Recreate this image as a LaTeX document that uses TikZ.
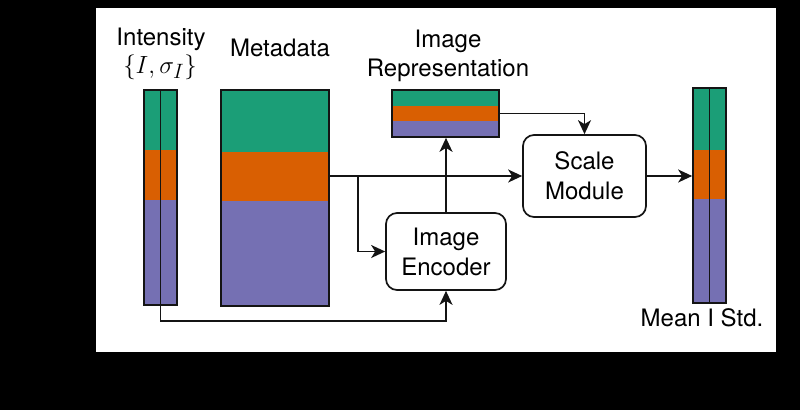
\documentclass[tikz,border=0pt]{standalone}
\usepackage{fontspec}
\setmainfont{TeX Gyre Heros}
\usetikzlibrary{arrows.meta}
\definecolor{cgreen}{HTML}{1B9E77}
\definecolor{corange}{HTML}{D95F02}
\definecolor{cpurple}{HTML}{7570B3}
\definecolor{cline}{HTML}{141414}
\begin{document}
\begin{tikzpicture}[x=1pt,y=-1pt,
  lbl/.style={font=\fontsize{24}{29}\selectfont, inner sep=0pt, align=center},
  boxnode/.style={draw=cline, line width=1.7pt, rounded corners=11pt, align=center,
     font=\fontsize{24}{30}\selectfont, inner sep=0pt},
  outline/.style={draw=cline, line width=1.7pt, inner sep=0pt},
  conn/.style={draw=cline, line width=1.7pt, -{Stealth[length=14pt,width=13pt,inset=4pt]}},
  plain/.style={draw=cline, line width=1.7pt}
]
\useasboundingbox (0,0) rectangle (800,410);
\fill[black] (0,0) rectangle (800,410);
\fill[white] (96,8) rectangle (776,352);

% Intensity bar
\fill[cgreen] (144,90) rectangle (177,150);
\fill[corange] (144,150) rectangle (177,200);
\fill[cpurple] (144,200) rectangle (177,305);
\node[outline, minimum width=33pt, minimum height=215pt] (int) at (160.5,197.5) {};
\draw[plain] (int.north) -- (int.south);

% Metadata
\fill[cgreen] (221,90) rectangle (329,152);
\fill[corange] (221,152) rectangle (329,201);
\fill[cpurple] (221,201) rectangle (329,306);
\node[outline, minimum width=108pt, minimum height=216pt] (meta) at (275,198) {};

% Image representation
\fill[cgreen] (392,90) rectangle (499,106);
\fill[corange] (392,106) rectangle (499,121);
\fill[cpurple] (392,121) rectangle (499,137);
\node[outline, minimum width=107pt, minimum height=47pt] (rep) at (445.5,113.5) {};

% Output bar
\fill[cgreen] (693,88) rectangle (726,150);
\fill[corange] (693,150) rectangle (726,199);
\fill[cpurple] (693,199) rectangle (726,303);
\node[outline, minimum width=33pt, minimum height=215pt] (out) at (709.5,195.5) {};
\draw[plain] (out.north) -- (out.south);

% Boxes
\node[boxnode, minimum width=123pt, minimum height=82pt] (scale) at (584.5,176) {Scale\\Module};
\node[boxnode, minimum width=120pt, minimum height=77pt] (enc) at (446,251.5) {Image\\Encoder};

% Labels
\node[lbl, anchor=base] (lint) at (161,45) {Intensity};
\node[inner sep=0pt, anchor=base, font=\Huge] (lsym) at (160,73) {$\{I,\sigma_I\}$};
\node[lbl, anchor=base] (lmeta) at (280,56) {Metadata};
\node[lbl] (lrep) at (448,55.5) {Image\\Representation};
\node[lbl, anchor=base] (lout) at (702,326) {Mean I Std.};

% Connectors
\coordinate (j) at (358,176);
\draw[conn] (meta.east |- scale.west) -- (scale.west);
\draw[conn] (j) |- (enc.west);
\draw[conn] (enc.north) -- (rep.south -| enc.north);
\draw[conn] (rep.east) -| (scale.north);
\draw[conn] (scale.east) -- (scale.east -| out.west);
\coordinate (b) at (160.5,321);
\draw[conn] (int.south) -- (b) -| (enc.south);
\end{tikzpicture}
\end{document}
